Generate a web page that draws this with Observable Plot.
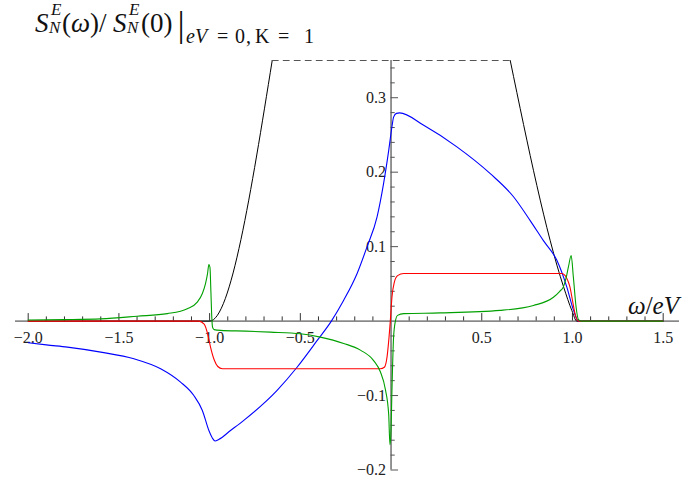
<!DOCTYPE html>
<html>
<head>
<meta charset="utf-8">
<script src="https://cdn.jsdelivr.net/npm/d3@7"></script>
<script src="https://cdn.jsdelivr.net/npm/@observablehq/plot@0.6"></script>
<style>
  body { margin: 0; background: #fff; }
  #chart { position: relative; width: 686px; height: 478px; }
  #chart svg { overflow: visible; }
</style>
</head>
<body>
<div id="chart"></div>
<script>
// Noise spectrum S_N^E(ω) normalised to its value at eV = 0, K = 1.
// Each series is a list of [ω/eV, value] pairs.
const blackLeft = [[-2.0, 0], [-1.0, 0], [-0.655, 0.35]];
const blackRight = [[0.657, 0.35], [0.951, 0.046], [0.997, 0.014], [1.024, 0], [1.5, 0]];
// part of the black curve above the plot range, drawn dashed along the top edge
const blackClipped = [[-0.655, 0.35], [0.657, 0.35]];

const blue = [
  [-2.0, -0.029], [-1.9, -0.032], [-1.784, -0.035], [-1.6, -0.0417], [-1.417, -0.0506],
  [-1.27, -0.064], [-1.16, -0.082], [-1.087, -0.1], [-1.04, -0.12], [-1.004, -0.147],
  [-0.985, -0.157], [-0.97, -0.161], [-0.95, -0.159], [-0.885, -0.147], [-0.81, -0.133],
  [-0.628, -0.093], [-0.518, -0.062], [-0.407, -0.026], [-0.329, 0], [-0.261, 0.028],
  [-0.187, 0.064], [-0.132, 0.1], [-0.077, 0.14], [-0.041, 0.185], [-0.013, 0.229],
  [0.005, 0.261], [0.014, 0.274], [0.03, 0.279], [0.047, 0.2796], [0.18, 0.263],
  [0.363, 0.234], [0.547, 0.198], [0.675, 0.167], [0.767, 0.135], [0.84, 0.108],
  [0.914, 0.0816], [0.969, 0.0457], [1.006, 0.0144], [1.033, 0], [1.5, 0]
];

const red = [
  [-2.0, 0], [-1.06, 0], [-1.03, -0.004], [-1.01, -0.018], [-0.995, -0.035],
  [-0.975, -0.052], [-0.955, -0.061], [-0.93, -0.064], [-0.059, -0.064], [-0.037, -0.062],
  [-0.022, -0.048], [-0.011, -0.0215], [-0.004, 0], [0.005, 0.032], [0.018, 0.052],
  [0.036, 0.061], [0.07, 0.064], [0.94, 0.064], [0.96, 0.061], [0.975, 0.054],
  [0.986, 0.046], [1.0, 0.028], [1.014, 0.01], [1.033, 0], [1.5, 0]
];

const green = [
  [-2.0, 0.0015], [-1.8, 0.002], [-1.6, 0.003], [-1.4, 0.0065], [-1.233, 0.01],
  [-1.123, 0.0167], [-1.068, 0.0255], [-1.04, 0.037], [-1.023, 0.05], [-1.012, 0.063],
  [-1.004, 0.076], [-0.998, 0.072], [-0.993, 0.04], [-0.988, 0.005], [-0.984, -0.008],
  [-0.975, -0.0115], [-0.94, -0.0125], [-0.8, -0.0135], [-0.665, -0.0148], [-0.5, -0.017],
  [-0.39, -0.0215], [-0.261, -0.03], [-0.169, -0.039], [-0.096, -0.053], [-0.059, -0.068],
  [-0.031, -0.092], [-0.013, -0.125], [-0.006, -0.166], [0.0, -0.145], [0.005, -0.093],
  [0.014, -0.0215], [0.024, 0], [0.036, 0.0077], [0.07, 0.01], [0.27, 0.011],
  [0.602, 0.0144], [0.785, 0.021], [0.895, 0.032], [0.93, 0.04], [0.95, 0.046],
  [0.965, 0.058], [0.978, 0.073], [0.993, 0.088], [1.005, 0.059], [1.02, 0.019],
  [1.033, 0.002], [1.05, 0], [1.5, 0]
];

// axis ticks
const xMajor = [-2.0, -1.5, -1.0, -0.5, 0.5, 1.0, 1.5];
const xMinor = d3.range(-20, 16).map(i => i / 10).filter(v => !xMajor.includes(v) && v !== 0);
const yMajor = [-0.2, -0.1, 0.1, 0.2, 0.3];
const yMinor = d3.range(-10, 18).map(i => +(i * 0.02).toFixed(2)).filter(v => !yMajor.includes(v) && v !== 0);

const W = 686, H = 478;
const mL = 15, mR = 7, mT = 60, mB = 8.5;
const xDom = [-2.07, 1.59], yDom = [-0.2, 0.35];
// tick lengths in pixels converted to data units
const pxX = (xDom[1] - xDom[0]) / (W - mL - mR);
const pxY = (yDom[1] - yDom[0]) / (H - mT - mB);
const majLen = 7.5, minLen = 4.2;

const fmt = d3.format(".1f");
const FONT = "Liberation Serif";
const lineOpts = {x: d => d[0], y: d => d[1], strokeWidth: 1.1, curve: "monotone-x"};
const tickText = {fontSize: 16, fontFamily: FONT, fill: "#222"};

const plot = Plot.plot({
  width: W,
  height: H,
  marginLeft: mL,
  marginRight: mR,
  marginTop: mT,
  marginBottom: mB,
  style: {fontFamily: FONT, background: "#fff", overflow: "visible"},
  x: {domain: xDom, axis: null},
  y: {domain: yDom, axis: null},
  marks: [
    // axes through the origin
    Plot.ruleY([0], {stroke: "#333", strokeWidth: 1}),
    Plot.ruleX([0], {stroke: "#666", strokeWidth: 1.4}),
    Plot.ruleX(xMajor, {x: d => d, y1: 0, y2: majLen * pxY, stroke: "#333", strokeWidth: 1}),
    Plot.ruleX(xMinor, {x: d => d, y1: 0, y2: minLen * pxY, stroke: "#333", strokeWidth: 1}),
    Plot.ruleY(yMajor, {y: d => d, x1: 0, x2: majLen * pxX, stroke: "#555", strokeWidth: 1}),
    Plot.ruleY(yMinor, {y: d => d, x1: 0, x2: minLen * pxX, stroke: "#555", strokeWidth: 1}),
    Plot.text(xMajor, {x: d => d, y: 0, dy: 16.5, text: d => fmt(d), ...tickText}),
    Plot.text(yMajor, {x: 0, y: d => d, dx: -5, textAnchor: "end", text: d => fmt(d), ...tickText}),
    // curves
    Plot.line(blackLeft, {...lineOpts, stroke: "#000", strokeWidth: 1}),
    Plot.line(blackRight, {...lineOpts, stroke: "#000", strokeWidth: 1}),
    Plot.line(blackClipped, {x: d => d[0], y: d => d[1], stroke: "#555", strokeWidth: 1, strokeDasharray: "6,5"}),
    Plot.line(blue, {...lineOpts, stroke: "#0000ff"}),
    Plot.line(red, {...lineOpts, stroke: "#ff0000"}),
    Plot.line(green, {...lineOpts, stroke: "#00a000"})
  ]
});

document.getElementById("chart").appendChild(plot);

// plot label and axis label: each entry is one text element made of
// [string, italic?, x?] runs; runs without x flow on from the previous one
const svg = d3.select(plot);
function label(x, y, size, runs) {
  const t = svg.append("text")
    .attr("x", x).attr("y", y)
    .attr("text-anchor", "start")
    .attr("font-family", FONT)
    .attr("font-size", size)
    .attr("fill", "#111");
  for (const [s, it, rx] of runs) {
    const ts = t.append("tspan").attr("font-style", it ? "italic" : "normal").text(s);
    if (rx !== undefined) ts.attr("x", rx);
  }
}
label(35, 32, 27, [["S", true]]);
label(51, 15, 17, [["E", true]]);
label(49, 33, 17, [["N", true]]);
label(62, 32, 27, [["(", false], ["ω", true], [")", false], ["/", false]]);
label(113, 32, 27, [["S", true]]);
label(129, 15, 17, [["E", true]]);
label(127, 33, 17, [["N", true]]);
label(141, 32, 27, [["(0)", false]]);
label(177.5, 36, 36, [["|", false]]);
label(186, 43, 20, [
  ["e", true], ["V", true, 195], ["=", false, 217], ["0", false, 235], [",", false, 246],
  ["K", false, 255], ["=", false, 278], ["1", false, 304]
]);
label(628, 314, 25, [["ω", true], ["/", false], ["eV", true]]);
</script>
</body>
</html>
